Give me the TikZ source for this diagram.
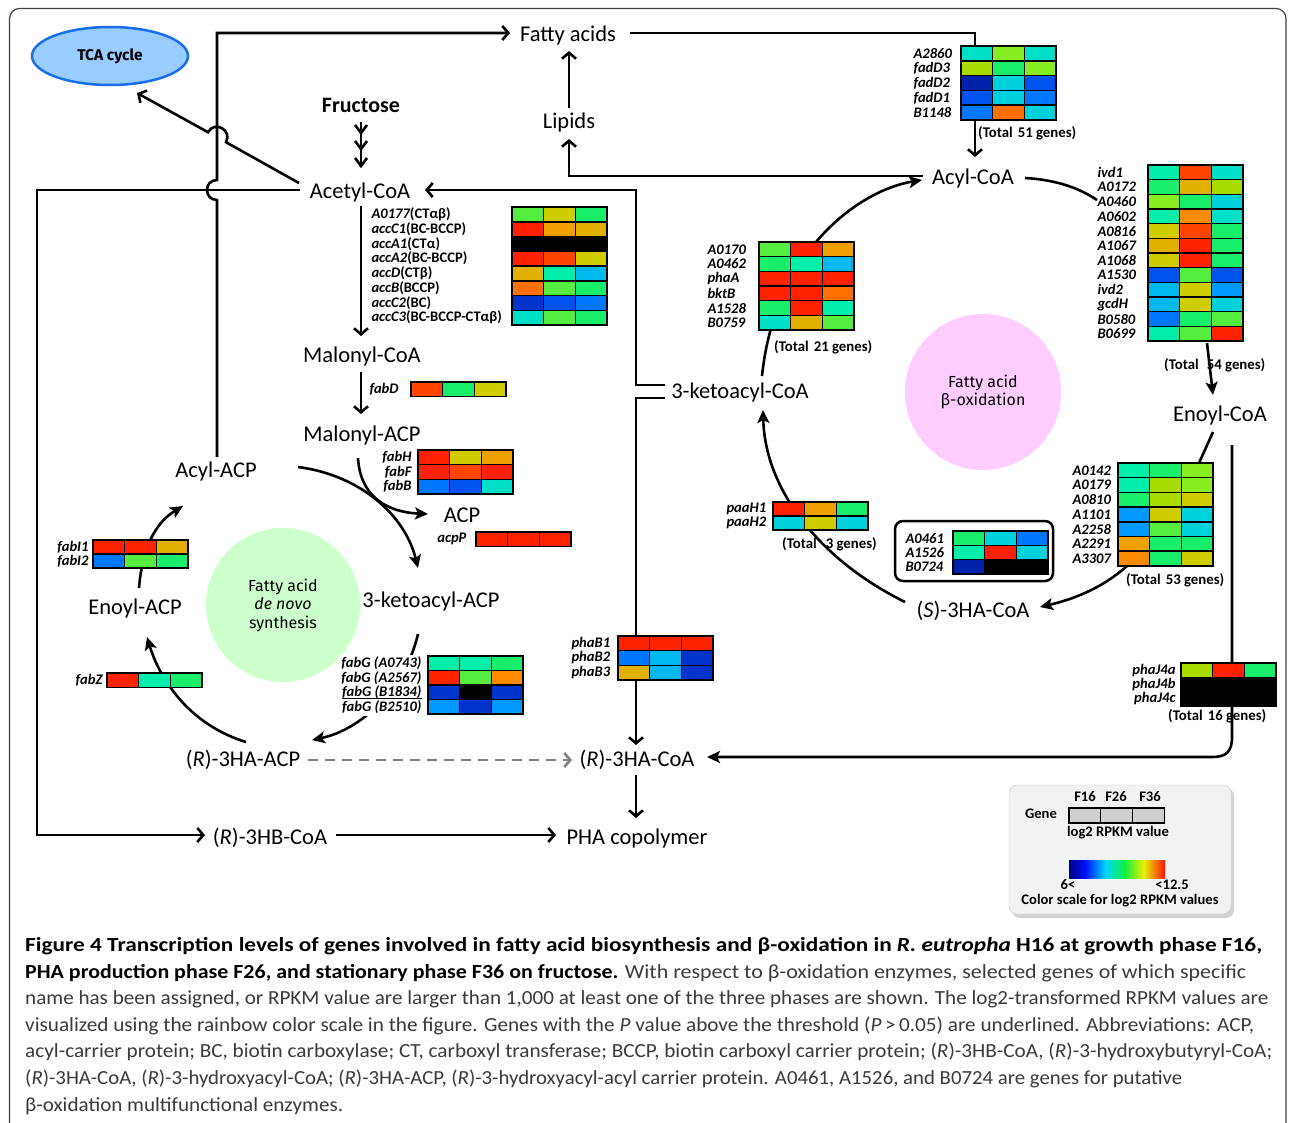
\documentclass[tikz,border=0pt]{standalone}
\usepackage{fontspec}
\setmainfont{Carlito}
\newfontfamily\comicf{Fira Sans}
\usetikzlibrary{arrows.meta,shapes.geometric}
\definecolor{rd}{HTML}{FF2200}
\definecolor{ro}{HTML}{FF4400}
\definecolor{or}{HTML}{FF7000}
\definecolor{oa}{HTML}{FF8C00}
\definecolor{am}{HTML}{F0A000}
\definecolor{gd}{HTML}{E2B000}
\definecolor{ol}{HTML}{CFCC00}
\definecolor{yg}{HTML}{A8DC00}
\definecolor{lg}{HTML}{88EE22}
\definecolor{gr}{HTML}{55EE40}
\definecolor{eg}{HTML}{18EE6A}
\definecolor{aq}{HTML}{00EEAA}
\definecolor{tq}{HTML}{00E0C8}
\definecolor{cy}{HTML}{00D2DD}
\definecolor{sk}{HTML}{00B8EE}
\definecolor{lb}{HTML}{0099FF}
\definecolor{mb}{HTML}{0077FF}
\definecolor{bl}{HTML}{0052EE}
\definecolor{db}{HTML}{0033CC}
\definecolor{nv}{HTML}{0022AA}
\definecolor{bk}{HTML}{000000}
\definecolor{tcaf}{HTML}{99CCFF}
\definecolor{tcab}{HTML}{1A6FF0}
\definecolor{grc}{HTML}{CCFFCC}
\definecolor{pkc}{HTML}{FFCCFF}
\definecolor{capgray}{HTML}{3A3A3A}
\definecolor{legbg}{HTML}{F2F2F2}
\definecolor{sc0}{HTML}{000080}
\definecolor{sc1}{HTML}{0010FF}
\definecolor{sc2}{HTML}{00D8FF}
\definecolor{sc3}{HTML}{10F040}
\definecolor{sc4}{HTML}{E8F000}
\definecolor{sc5}{HTML}{FF1000}
\pgfdeclarehorizontalshading{rainbowsh}{100bp}{color(0bp)=(sc0); color(25bp)=(sc0); color(33.5bp)=(sc1); color(44bp)=(sc2); color(54bp)=(sc3); color(64bp)=(sc4); color(75bp)=(sc5); color(100bp)=(sc5)}
\tikzset{
  lbl/.style={font=\fontsize{22.5}{26}\selectfont, inner sep=1pt},
  gene/.style={font=\fontsize{14.6}{15}\selectfont\bfseries\itshape, inner sep=0.3pt},
  tot/.style={font=\fontsize{14.8}{15}\selectfont\bfseries, inner sep=0pt, anchor=west},
  leg/.style={font=\fontsize{14.6}{15}\selectfont\bfseries, inner sep=0pt},
  cell/.style={draw=black, line width=1.5pt},
  conn/.style={line width=2.6pt, draw=black},
  arr/.style={conn, -{Straight Barb[length=6pt,width=14pt,line width=2.6pt]}},
  carr/.style={conn, -{Stealth[length=13pt,width=12pt,inset=3pt]}},
  captxt/.style={anchor=west, inner sep=0pt, font=\fontsize{20}{23}\selectfont, text=capgray},
}
\newcommand\hmap[4]{%
  \foreach [count=\ri] \cA/\cB/\cC in {#4}{%
    \pgfmathsetmacro\yy{#2+(\ri-1)*#3}%
    \filldraw[cell,fill=\cA] (#1,\yy) rectangle ++(31.7,#3);
    \filldraw[cell,fill=\cB] ({#1+31.7},\yy) rectangle ++(31.7,#3);
    \filldraw[cell,fill=\cC] ({#1+63.4},\yy) rectangle ++(31.7,#3);
  }}
\newcommand\glab[7][]{%
  \foreach [count=\ri] \gl in {#7}{%
    \node[gene,anchor=#6,#1] (#2\ri) at (#3,{#4+(\ri-0.5)*#5}) {\gl};
  }}
\begin{document}
\begin{tikzpicture}[x=1pt,y=-1pt]
\useasboundingbox (0,0) rectangle (1290,1122);
\fill[white] (0,0) rectangle (1290,1122);
\draw[black!75, line width=1.2pt, rounded corners=10pt] (9.5,8.5) rectangle (1286,1150);

% circles
\node[circle, fill=grc, minimum size=154pt, inner sep=0pt, align=center, font=\comicf\fontsize{16}{18.5}\selectfont] (gcirc) at (283,605) {Fatty acid\\\textit{de novo}\\synthesis};
\node[circle, fill=pkc, minimum size=156pt, inner sep=0pt, align=center, font=\comicf\fontsize{16}{17.5}\selectfont] (pcirc) at (983,392) {Fatty acid\\β-oxidation};
\node[ellipse, draw=tcab, fill=tcaf, line width=2.5pt, minimum width=156pt, minimum height=58pt, font=\comicf\bfseries\fontsize{15.5}{17}\selectfont] (tca) at (110,56) {TCA cycle};

% metabolite labels
\node[lbl] (fa) at (568,35) {Fatty acids};
\node[lbl] (lip) at (569,122) {Lipids};
\node[lbl,font=\fontsize{22}{26}\selectfont\bfseries] (fru) at (361,105) {Fructose};
\node[lbl] (acet) at (360,192) {Acetyl-CoA};
\node[lbl] (malcoa) at (362,356) {Malonyl-CoA};
\node[lbl] (malacp) at (362,435) {Malonyl-ACP};
\node[lbl] (acylacp) at (216,471) {Acyl-ACP};
\node[lbl] (acp) at (462,515) {ACP};
\node[lbl] (enacp) at (135,608) {Enoyl-ACP};
\node[lbl] (kacp) at (431,601) {3-ketoacyl-ACP};
\node[lbl] (hacp) at (243,760) {(\textit{R})-3HA-ACP};
\node[lbl] (hcoa) at (637,760) {(\textit{R})-3HA-CoA};
\node[lbl] (hbcoa) at (270,838) {(\textit{R})-3HB-CoA};
\node[lbl] (pha) at (637,838) {PHA copolymer};
\node[lbl] (kcoa) at (740,392) {3-ketoacyl-CoA};
\node[lbl] (acylcoa) at (973,178) {Acyl-CoA};
\node[lbl] (encoa) at (1220,415) {Enoyl-CoA};
\node[lbl] (scoa) at (973,611) {(\textit{S})-3HA-CoA};

% connector points
\coordinate (tcaTip) at (137,93);
\coordinate (faW) at (510,33);
\coordinate (faE) at (630,33);
\coordinate (acylTop) at (975,157);

% connectors
\draw[arr] (299,183) -- (226,142.2) .. controls (232.6,130.2) and (214.6,120.2) .. (208,132.2) -- (tcaTip);
\draw[arr] (217,457) -- (217,200) .. controls (203.7,200) and (203.7,180) .. (217,180) -- (217,33) -- (faW);
\draw[arr] (300,190) -- (37,190) -- (37,835) -- (205,835);
\draw[arr] (569,108) -- (569,51);
\draw[arr] (923,176) -- (569,176) -- (569,139);
\draw[arr] (faE) -- (975,33) -- (acylTop);
\draw[conn] (361,122) -- (361,167);
\foreach \yy in {133,149,166} \draw[conn] (355,\yy-8) -- (361,\yy) -- (367,\yy-8);
\draw[arr] (361,206) -- (361,336);
\draw[arr] (361,372) -- (361,414);
\draw[arr] (665,385) -- (636,385) -- (636,190) -- (425,190);
\draw[arr] (665,398) -- (636,398) -- (636,745);
\draw[arr] (636,775) -- (636,818);
\draw[arr] (336,835) -- (556,835);
\draw[arr, gray, dashed, dash pattern=on 10pt off 7pt] (308,760) -- (572,760);
\draw[carr] (358,458) .. controls (360,495) and (385,512) .. (428,514);
\draw[carr] (298,467) .. controls (360,475) and (405,515) .. (418,568);
\draw[carr] (418,634) .. controls (405,690) and (360,730) .. (312,740);
\draw[carr] (246,742) .. controls (190,725) and (160,680) .. (147,637);
\draw[carr] (139,588) .. controls (143,540) and (160,520) .. (183,506);
\draw[carr] (762,376) .. controls (775,250) and (860,190) .. (922,180);
\draw[conn] (1025,178) .. controls (1060,180) and (1082,190) .. (1097,200);
\draw[carr] (1207,343) -- (1213,395);
\draw[carr] (1213,432) -- (1199,463) -- (1127,566) .. controls (1100,590) and (1070,600) .. (1040,607);
\draw[carr] (1232,445) -- (1232,737) .. controls (1232,752) and (1226,757) .. (1212,757) -- (707,757);
\draw[carr] (905,602) .. controls (820,560) and (765,490) .. (763,410);

% multifunctional box
\node[draw, line width=2.5pt, rounded corners=8pt, minimum width=158pt, minimum height=60pt, inner sep=0pt] (mfe) at (974,551) {};

% heatmaps
\hmap{512}{207}{14.75}{gr/ol/eg, rd/am/gd, bk/bk/bk, rd/ro/ol, gd/aq/sk, or/gr/eg, db/bl/mb, tq/gr/eg}
\glab{acc}{371}{207}{14.75}{west}{{A0177\upshape(CTαβ)},{accC1\upshape(BC-BCCP)},{accA1\upshape(CTα)},{accA2\upshape(BC-BCCP)},{accD\upshape(CTβ)},{accB\upshape(BCCP)},{accC2\upshape(BC)},{accC3\upshape(BC-BCCP-CTαβ)}}

\hmap{411}{382}{14.5}{ro/eg/ol}
\node[gene,anchor=west] (fabD) at (369,389) {fabD};

\hmap{418}{450}{14.67}{rd/ol/am, rd/ro/rd, mb/bl/tq}
\glab{fabh}{412}{450}{14.67}{east}{fabH,fabF,fabB}

\hmap{476}{532}{14.5}{rd/rd/rd}
\node[gene,anchor=east] (acpP) at (467,539) {acpP};

\hmap{93}{540}{14}{rd/rd/gd, mb/gr/eg}
\glab{fabi}{89}{540}{14}{east}{fabI1,fabI2}

\hmap{107}{673}{14.5}{rd/aq/eg}
\node[gene,anchor=east] (fabZ) at (103,680) {fabZ};

\fill[white] (338,655) rectangle (424,716);
\hmap{428}{656}{14.5}{aq/aq/eg, rd/gr/oa, db/bk/db, lb/db/lb}
\glab{fabg}{422}{656}{14.5}{east}{{fabG (A0743)},{fabG (A2567)},{fabG (B1834)},{fabG (B2510)}}
\draw[line width=1.1pt] ([yshift=1.2pt]fabg3.south west) -- ([yshift=1.2pt]fabg3.south east);

\hmap{618}{636}{14.67}{rd/rd/rd, mb/sk/db, gd/sk/db}
\glab{phab}{571}{636}{14.67}{west}{phaB1,phaB2,phaB3}

\hmap{759}{242}{14.67}{gr/rd/am, eg/aq/sk, rd/rd/rd, rd/rd/or, eg/rd/aq, tq/gd/gr}
\glab{kth}{707}{242}{14.67}{west}{A0170,A0462,phaA,bktB,A1528,B0759}
\node[tot] (t21) at (774,347) {(Total\hspace{5pt}21 genes)};

\hmap{773}{502}{14}{rd/am/eg, cy/ol/cy}
\glab{paah}{726}{502}{14}{west}{paaH1,paaH2}
\node[tot] (t3) at (782,544) {(Total\hspace{9pt}3 genes)};

\hmap{953}{531}{14.33}{eg/cy/mb, aq/rd/cy, nv/bk/bk}
\glab{mfg}{905}{531}{14.33}{west}{A0461,A1526,B0724}

\hmap{961}{46}{14.8}{tq/lg/tq, yg/eg/lg, nv/cy/bl, bl/cy/mb, mb/or/cy}
\glab{fad}{913}{46}{14.8}{west}{A2860,fadD3,fadD2,fadD1,B1148}
\node[tot] (t51) at (978,133) {(Total\hspace{5pt}51 genes)};

\hmap{1148}{165}{14.67}{aq/ro/tq, eg/gd/yg, lg/eg/cy, aq/oa/tq, ol/ro/eg, gd/rd/eg, ol/rd/eg, bl/gr/bl, sk/ol/lb, sk/ol/cy, mb/eg/gr, aq/gr/rd}
\glab{ivd}{1097}{165}{14.67}{west}{ivd1,A0172,A0460,A0602,A0816,A1067,A1068,A1530,ivd2,gcdH,B0580,B0699}
\node[tot] (t54) at (1164,365) {(Total\hspace{8pt}54 genes)};

\hmap{1118}{463}{14.7}{aq/eg/lg, aq/yg/lg, eg/yg/ol, lb/ol/cy, lb/gr/cy, am/eg/eg, oa/eg/ol}
\glab{ech}{1072}{463}{14.7}{west}{A0142,A0179,A0810,A1101,A2258,A2291,A3307}
\node[tot] (t53) at (1126,580) {(Total\hspace{5pt}53 genes)};

\hmap{1181}{663}{14.33}{yg/rd/eg, bk/bk/bk, bk/bk/bk}
\glab{phaj}{1176}{663}{14.33}{east}{phaJ4a,phaJ4b,phaJ4c}
\node[tot] (t16) at (1168,716) {(Total\hspace{5pt}16 genes)};

% legend
\fill[gray!35, rounded corners=8pt] (1012,788) rectangle (1234,918);
\filldraw[fill=legbg, draw=gray!45, rounded corners=8pt] (1009,785) rectangle (1231,914);
\node[leg] (lf16) at (1085,797) {F16};
\node[leg] (lf26) at (1116,797) {F26};
\node[leg] (lf36) at (1150,797) {F36};
\node[leg] (lgene) at (1041,814) {Gene};
\foreach \xx in {1069,1100.7,1132.4} \filldraw[fill=gray!38, draw=black, line width=1.2pt] (\xx,808) rectangle ++(31.7,15);
\node[leg] (lval) at (1118,833) {log2 RPKM value};
\shade[shading=rainbowsh] (1069,860) rectangle (1165,878);
\node[leg] (l6) at (1068,885) {6<};
\node[leg] (l12) at (1172,885) {<12.5};
\node[leg] (lcs) at (1120,901) {Color scale for log2 RPKM values};

% caption
\node[captxt] (c1) at (25,946) {\resizebox{1237pt}{\height}{\color{black}\bfseries Figure 4 Transcription levels of genes involved in fatty acid biosynthesis and β-oxidation in \textit{R. eutropha} H16 at growth phase F16,}};
\node[captxt] (c2) at (25,973) {\resizebox{1221pt}{\height}{{\color{black}\bfseries PHA production phase F26, and stationary phase F36 on fructose.} With respect to β-oxidation enzymes, selected genes of which specific}};
\node[captxt] (c3) at (25,999) {\resizebox{1243pt}{\height}{name has been assigned, or RPKM value are larger than 1,000 at least one of the three phases are shown. The log2-transformed RPKM values are}};
\node[captxt] (c4) at (25,1026) {\resizebox{1229pt}{\height}{visualized using the rainbow color scale in the figure. Genes with the \textit{P} value above the threshold (\textit{P}\,>\,0.05) are underlined. Abbreviations: ACP,}};
\node[captxt] (c5) at (25,1052) {\resizebox{1247pt}{\height}{acyl-carrier protein; BC, biotin carboxylase; CT, carboxyl transferase; BCCP, biotin carboxyl carrier protein; (\textit{R})-3HB-CoA, (\textit{R})-3-hydroxybutyryl-CoA;}};
\node[captxt] (c6) at (25,1079) {\resizebox{1157pt}{\height}{(\textit{R})-3HA-CoA, (\textit{R})-3-hydroxyacyl-CoA; (\textit{R})-3HA-ACP, (\textit{R})-3-hydroxyacyl-acyl carrier protein. A0461, A1526, and B0724 are genes for putative}};
\node[captxt] (c7) at (25,1106) {\resizebox{318pt}{\height}{β-oxidation multifunctional enzymes.}};
\end{tikzpicture}
\end{document}
